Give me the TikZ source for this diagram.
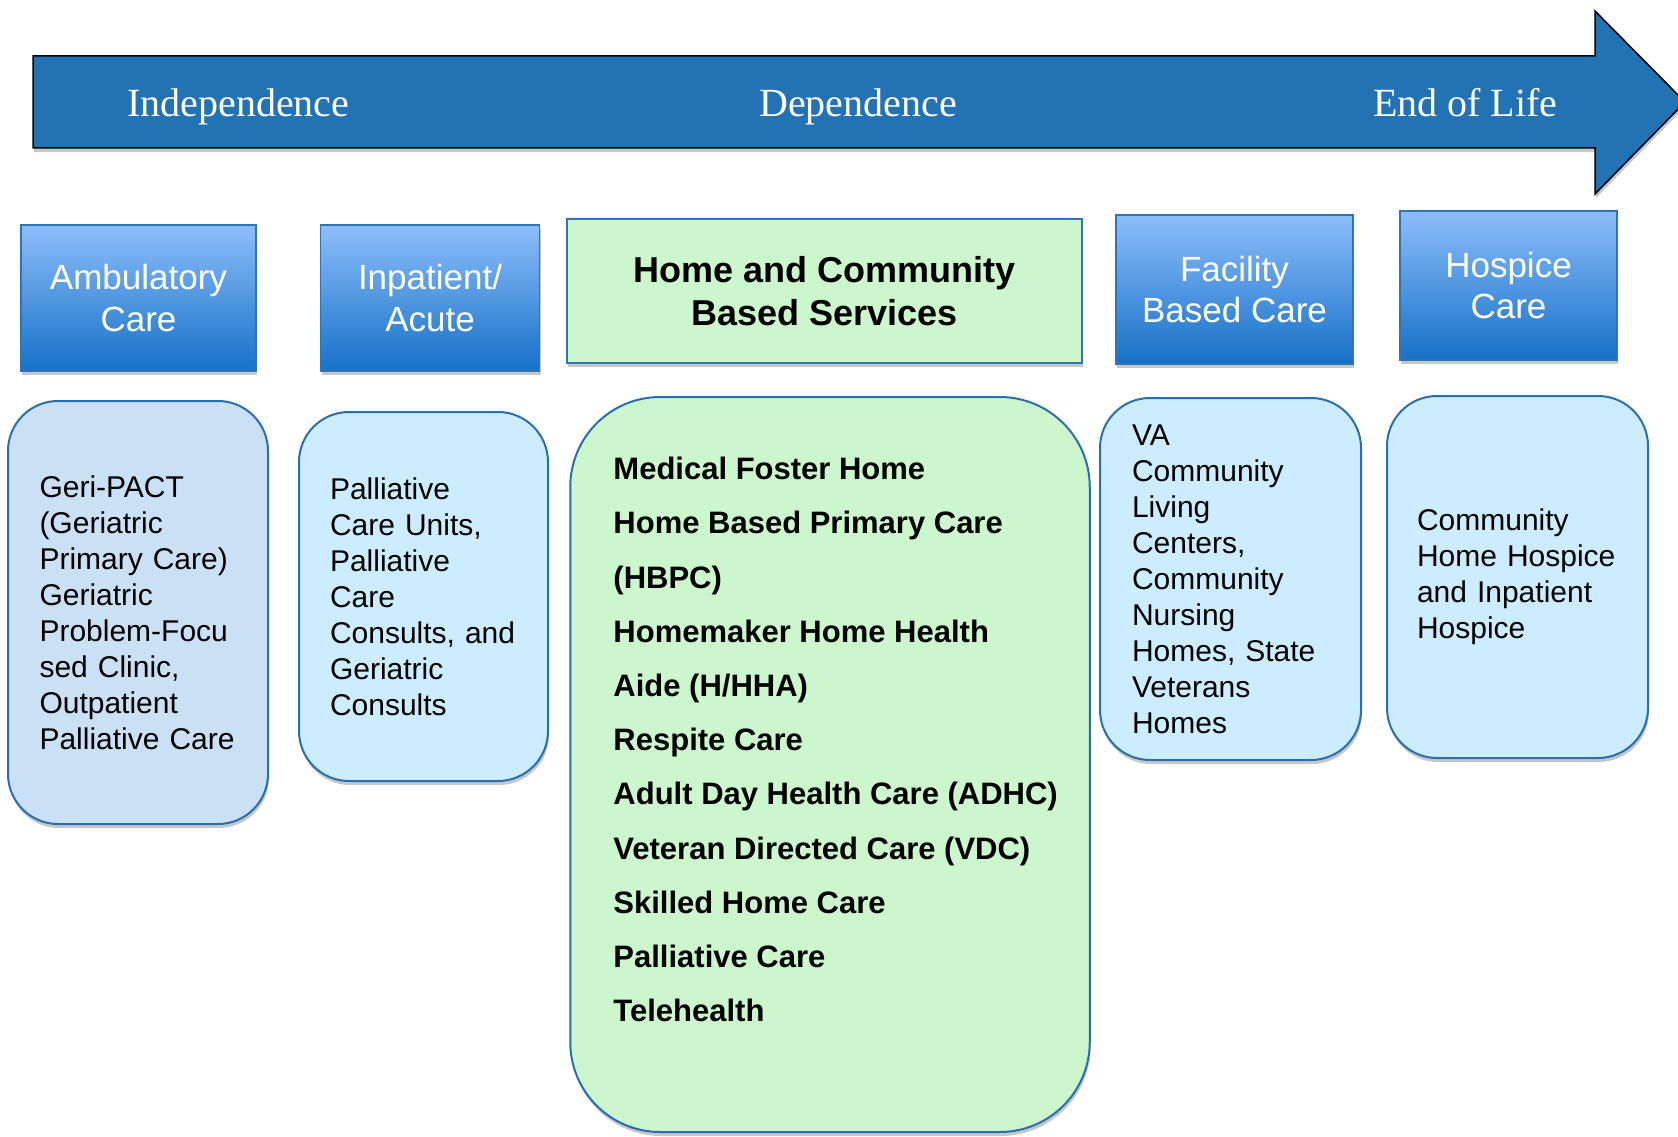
\documentclass[tikz,border=0pt]{standalone}
\usepackage{fontspec}
\setmainfont{Liberation Sans}
\newfontfamily\arrowfont{Liberation Serif}
\usetikzlibrary{shadows}
\definecolor{arrowblue}{RGB}{35,114,179}
\definecolor{headtop}{RGB}{141,189,250}
\definecolor{headbot}{RGB}{22,113,200}
\definecolor{headline}{RGB}{46,117,182}
\definecolor{bodyline}{RGB}{42,110,178}
\definecolor{ambfill}{RGB}{202,225,245}
\definecolor{lightfill}{RGB}{204,236,255}
\definecolor{greenfill}{RGB}{204,247,204}
\tikzset{
  softshadow/.style={drop shadow={shadow xshift=1pt, shadow yshift=-4pt, fill=black, opacity=0.22}},
  arrowtext/.style={text=white, inner sep=0pt, font=\arrowfont\fontsize{40}{48}\selectfont},
  headbox/.style={draw=headline, line width=1.5pt, top color=headtop, bottom color=headbot,
    text=white, align=center, inner sep=0pt, font=\fontsize{35}{41.5}\selectfont, softshadow},
  bodybox/.style={draw=bodyline, line width=2pt, rounded corners=50pt, align=left,
    inner ysep=0pt, font=\fontsize{30}{36}\selectfont, softshadow}
}
\begin{document}
\begin{tikzpicture}[x=1pt,y=-1pt]
\useasboundingbox (0,0) rectangle (1678,1137);
\fill[white] (0,0) rectangle (1678,1137);
% timeline arrow
\draw[fill=arrowblue, draw=black, line width=1.5pt, softshadow]
  (33,56) -- (1595,56) -- (1595,11) -- (1685,102) -- (1595,194) -- (1595,148) -- (33,148) -- cycle;
\node[arrowtext, anchor=base west] (indep) at (127,117) {Independence};
\node[arrowtext, anchor=base] (dep) at (858,117) {Dependence};
\node[arrowtext, anchor=base west] (eol) at (1373,117) {End of Life};
% headers
\node[headbox, minimum width=235pt, minimum height=146pt] (amb) at (138.5,298) {Ambulatory\\Care};
\node[headbox, minimum width=219pt, minimum height=146pt] (inpat) at (430,298) {Inpatient/\\Acute};
\node[draw=headline, line width=1.5pt, fill=greenfill, softshadow, align=center, inner sep=0pt,
  minimum width=515pt, minimum height=144pt, font=\fontsize{36}{43}\bfseries] (hcbs) at (824.5,291)
  {Home and Community\\Based Services};
\node[headbox, minimum width=237pt, minimum height=149pt] (facil) at (1234.5,289.5) {Facility\\Based Care};
\node[headbox, minimum width=217pt, minimum height=149pt] (hosp) at (1508.5,285.5) {Hospice\\Care};
% service boxes
\node[bodybox, fill=ambfill, minimum height=423pt, text width=197pt, inner xsep=31.5pt] (ambbody) at (138,612.5)
  {Geri-PACT\\(Geriatric\\Primary Care)\\Geriatric\\Problem-Focu\\sed Clinic,\\Outpatient\\Palliative Care};
\node[bodybox, fill=lightfill, minimum height=369pt, text width=187pt, inner xsep=31pt] (inpatbody) at (423.5,596.5)
  {Palliative\\Care Units,\\Palliative\\Care\\Consults, and\\Geriatric\\Consults};
\node[bodybox, fill=greenfill, rounded corners=90pt, minimum width=519.5pt, minimum height=735pt] (hcbsbody) at (830,764.5) {};
\node[anchor=north west, align=left, inner sep=0pt, font=\fontsize{31}{54.2}\bfseries] (hcbslist)
  at ([xshift=44pt, yshift=-61pt]hcbsbody.north west)
  {Medical Foster Home\\Home Based Primary Care\\(HBPC)\\Homemaker Home Health\\Aide (H/HHA)\\Respite Care\\
   Adult Day Health Care (ADHC)\\Veteran Directed Care (VDC)\\Skilled Home Care\\Palliative Care\\Telehealth};
\node[bodybox, fill=lightfill, minimum height=362pt, text width=197pt, inner xsep=32pt] (facilbody) at (1230.5,579)
  {VA\\Community\\Living\\Centers,\\Community\\Nursing\\Homes, State\\Veterans\\Homes};
\node[bodybox, fill=lightfill, minimum height=362pt, text width=201pt, inner xsep=30pt] (hospbody) at (1517.5,577)
  {Community\\Home Hospice\\and Inpatient\\Hospice};
\end{tikzpicture}
\end{document}
